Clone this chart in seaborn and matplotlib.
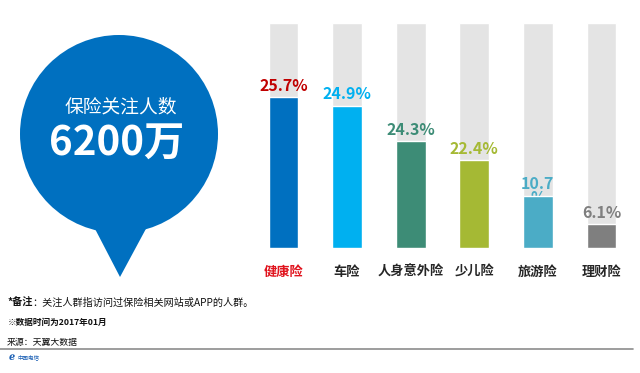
import matplotlib
matplotlib.use('Agg')
import matplotlib.pyplot as plt
import seaborn as sns
import pandas as pd
from matplotlib.patches import Circle, Polygon

# data
categories = ['健康险', '车险', '人身意外险', '少儿险', '旅游险', '理财险']
share_labels = ['25.7%', '24.9%', '24.3%', '22.4%', '10.7\n%', '6.1%']
# bar length as drawn, in % of the grey track
bar_level = [67.2, 63.3, 47.4, 39.1, 23.2, 10.7]
track_level = [100, 100, 100, 100, 100, 100]
bar_colors = ['#0070C0', '#00B0F0', '#3D8C76', '#A5B934', '#4BACC6', '#7F7F7F']
label_colors = ['#C00000', '#00B0F0', '#3D8C76', '#A5B934', '#4BACC6', '#7F7F7F']
cat_colors = ['#E0141E', '#262626', '#262626', '#262626', '#262626', '#262626']

sns.set_style('white')
plt.rcParams['font.family'] = ['Noto Sans CJK SC', 'DejaVu Sans']

W, H = 640, 373
fig = plt.figure(figsize=(W / 100, H / 100), dpi=100)

# background axes in pixel coordinates: balloon + footer
bg = fig.add_axes([0, 0, 1, 1])
bg.set_xlim(0, W)
bg.set_ylim(H, 0)
bg.axis('off')

blue = '#0070C0'
bg.add_patch(Polygon([(93, 225), (148, 225), (120, 277)], closed=True, color=blue, lw=0))
bg.add_patch(Circle((119, 134), 99, color=blue, lw=0))
bg.text(121, 107, '保险关注人数', color='white', fontsize=13.5, ha='center', va='center')
bg.text(117, 143, '6200万', color='white', fontsize=29, fontweight='bold', ha='center', va='center')

bg.text(7, 303, '*备注', fontsize=7.3, fontweight='bold', color='#111111', va='center')
bg.text(32, 303, '：关注人群指访问过保险相关网站或APP的人群。', fontsize=7.3, color='#111111', va='center')
bg.text(8, 322.5, '※数据时间为2017年01月', fontsize=6.2, fontweight='bold', color='#111111', va='center')
bg.text(7, 342, '来源：天翼大数据', fontsize=6.4, color='#111111', va='center')
bg.plot([0, 633], [348.5, 348.5], color='#8C8C8C', lw=1.2)
bg.text(9, 357, 'ℯ', fontsize=7, color='#1A5FB4', va='center', fontweight='bold')
bg.text(17, 357, '中国电信', fontsize=4, color='#1A5FB4', va='center')

# bar axes
left, right = 251.7, 633.3
top, bottom = 23, 248
ax = fig.add_axes([left / W, (H - bottom) / H, (right - left) / W, (bottom - top) / H])
df = pd.DataFrame({'cat': categories, 'bar': bar_level, 'track': track_level})

sns.barplot(data=df, x='cat', y='track', color='#E4E4E4', width=0.47,
            ax=ax, zorder=0.5, saturation=1)
sns.barplot(data=df, x='cat', y='bar', hue='cat', palette=bar_colors, width=0.47,
            ax=ax, zorder=2, saturation=1, legend=False)

# labels sit above the bar; a wrapped second line slips behind the bar
for i, (lv, lab, c) in enumerate(zip(bar_level, share_labels, label_colors)):
    extra = lab.count('\n')
    ax.annotate(lab, (i, lv), xytext=(0, 4.5 - 9.5 * extra), textcoords='offset points',
                ha='center', va='baseline', fontsize=11.5, fontweight='bold',
                color=c, zorder=1, linespacing=0.85)

ax.set_ylim(0, 100)
ax.set_xlim(-0.5, len(categories) - 0.5)
ax.set_xlabel('')
ax.set_ylabel('')
ax.set_yticks([])
ax.tick_params(axis='x', length=0, pad=12)
for t, c in zip(ax.get_xticklabels(), cat_colors):
    t.set_color(c)
    t.set_fontweight('bold')
    t.set_fontsize(9.5)
sns.despine(ax=ax, left=True, bottom=True)

fig.savefig('out.png', dpi=100)
